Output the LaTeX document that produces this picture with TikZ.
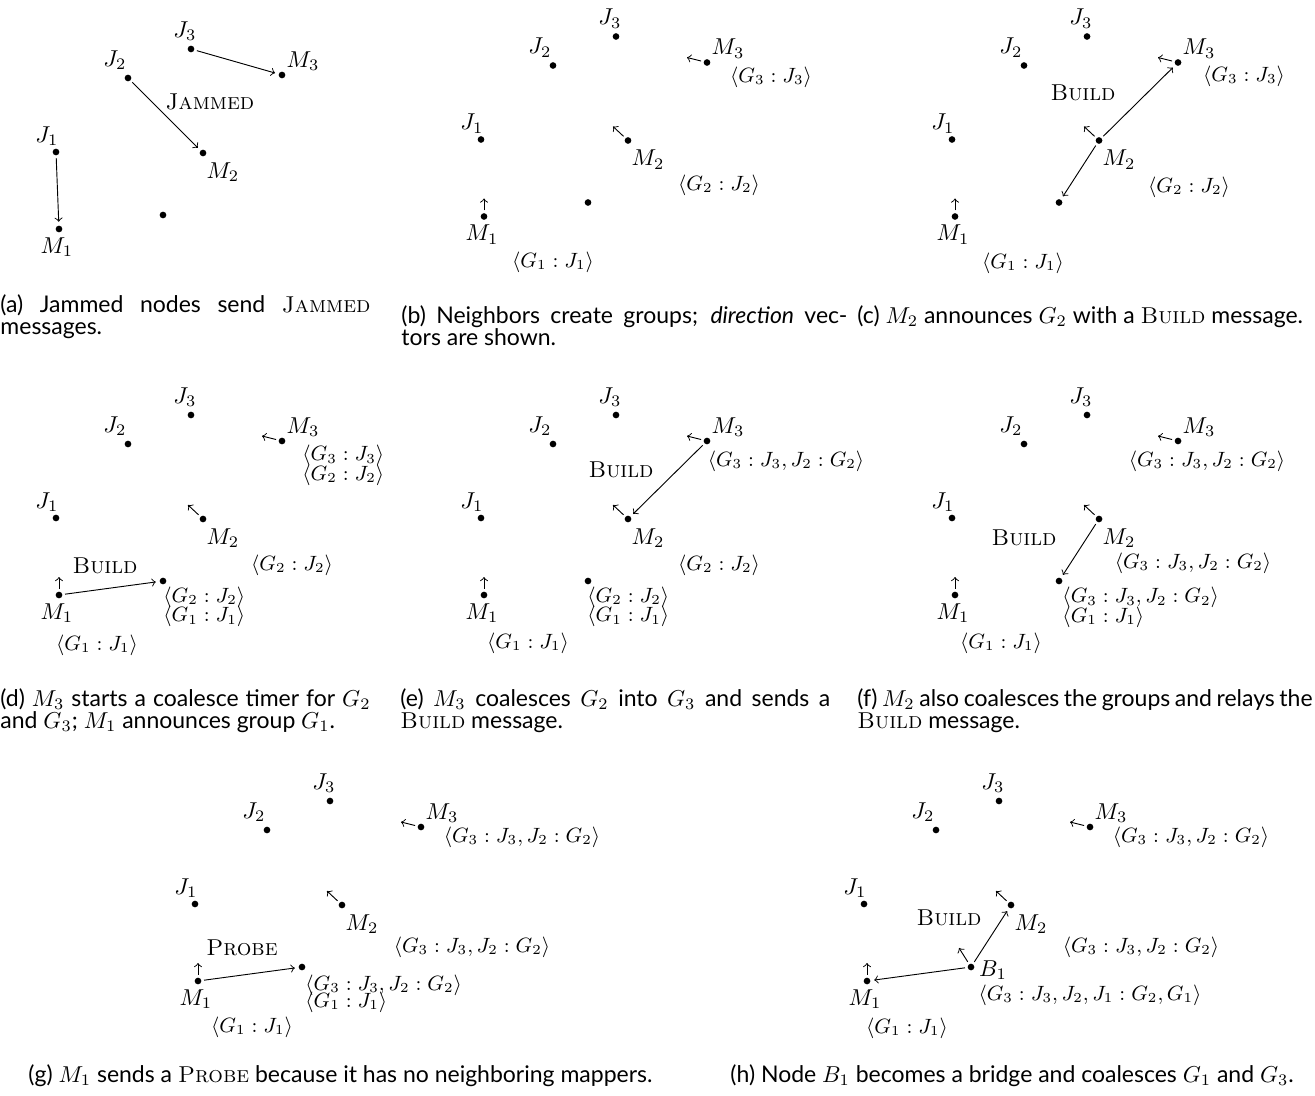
\documentclass[tikz,border=0pt]{standalone}
\usepackage{amsmath}
\usepackage{fontspec}
\newfontfamily\legfont{Lato}
\usepackage{tikz}
\newcommand{\msg}[1]{{\rmfamily\textsc{#1}}}
\newcommand{\ligne}[2]{\makebox[#1][s]{#2}}
\newcommand{\legstyle}{\legfont\fontsize{10}{9.5}\selectfont\lineskiplimit-10pt\relax}
\newcommand{\reseau}[1]{%
  \node[noeud] (#1J3) at (191,49) {};  \node (#1lJ3) at (185,31) {$J_3$};
  \node[noeud] (#1J2) at (128,78) {};  \node (#1lJ2) at (115,60) {$J_2$};
  \node[noeud] (#1M3) at (282,75) {};  \node (#1lM3) at (303,61) {$M_3$};
  \node[noeud] (#1J1) at (56,152) {};  \node (#1lJ1) at (47,136) {$J_1$};
  \node[noeud] (#1M2) at (203,153) {}; \node (#1lM2) at (223,172) {$M_2$};
  \node[noeud] (#1M1) at (59,229) {};  \node (#1lM1) at (57,247) {$M_1$};
  \node[noeud] (#1B1) at (163,215) {};}
\newcommand{\directions}[1]{\draw[vecteur] (#1M3) -- +(-20,-5);
  \draw[vecteur] (#1M2) -- +(-15,-14); \draw[vecteur] (#1M1) -- +(0,-18);}

\begin{document}
\begin{tikzpicture}[>=to, x=0.435pt, y=-0.435pt,
  noeud/.style={circle, fill, inner sep=0pt, minimum size=2.9pt},
  fleche/.style={->, shorten <=1pt, shorten >=1.5pt},
  vecteur/.style={->, shorten <=1pt},
  groupe/.style={font=\small, inner sep=0pt},
  pile/.style={groupe, align=left, anchor=west},
  legende/.style={font=\legstyle, inner sep=0pt, anchor=north west, align=left}]
  \useasboundingbox (0,0) rectangle (1315,1095);

  % (a) messages Jammed
  \begin{scope}
    \reseau{a}
    \draw[fleche] (aJ3) -- (aM3);
    \draw[fleche] (aJ2) -- (aM2);
    \draw[fleche] (aJ1) -- (aM1);
    \node (aMsg) at (210,102) {\msg{Jammed}};
  \end{scope}

  % (b) groupes et vecteurs direction
  \begin{scope}[shift={(425,-12.5)}]
    \reseau{b}
    \directions{b}
    \node[groupe] (bT3) at (346,89.5) {$\langle G_3 : J_3\rangle$};
    \node[groupe] (bT2) at (294,197.5) {$\langle G_2 : J_2\rangle$};
    \node[groupe] (bT1) at (128,274.5) {$\langle G_1 : J_1\rangle$};
  \end{scope}

  % (c) M2 annonce G2
  \begin{scope}[shift={(896,-12.5)}]
    \reseau{c}
    \directions{c}
    \draw[fleche] (cM2) -- (cM3);
    \draw[fleche] (cM2) -- (cB1);
    \node (cMsg) at (187,105.5) {\msg{Build}};
    \node[groupe] (cT3) at (348,88.5) {$\langle G_3 : J_3\rangle$};
    \node[groupe] (cT2) at (293,199.5) {$\langle G_2 : J_2\rangle$};
    \node[groupe] (cT1) at (127,275.5) {$\langle G_1 : J_1\rangle$};
  \end{scope}

  % (d) M1 annonce G1
  \begin{scope}[shift={(0,366)}]
    \reseau{d}
    \directions{d}
    \draw[fleche] (dM1) -- (dB1);
    \node (dMsg) at (105,200) {\msg{Build}};
    \node[pile] (dT3) at (302,99.3) {$\langle G_3 : J_3\rangle$\\[-2.5pt]$\langle G_2 : J_2\rangle$};
    \node[groupe] (dT2) at (292,199) {$\langle G_2 : J_2\rangle$};
    \node[pile] (dTB) at (163,241) {$\langle G_2 : J_2\rangle$\\[-2.5pt]$\langle G_1 : J_1\rangle$};
    \node[groupe] (dT1) at (97,279) {$\langle G_1 : J_1\rangle$};
  \end{scope}

  % (e) M3 fusionne G2 dans G3
  \begin{scope}[shift={(425,366)}]
    \reseau{e}
    \directions{e}
    \draw[fleche] (eM3) -- (eM2);
    \node (eMsg) at (196,104) {\msg{Build}};
    \node[groupe] (eT3) at (361,95) {$\langle G_3 : J_3, J_2 : G_2\rangle$};
    \node[groupe] (eT2) at (294,199) {$\langle G_2 : J_2\rangle$};
    \node[pile] (eTB) at (162,241) {$\langle G_2 : J_2\rangle$\\[-2.5pt]$\langle G_1 : J_1\rangle$};
    \node[groupe] (eT1) at (103,277) {$\langle G_1 : J_1\rangle$};
  \end{scope}

  % (f) M2 relaie
  \begin{scope}[shift={(896,366)}]
    \reseau{f}
    \directions{f}
    \draw[fleche] (fM2) -- (fB1);
    \node (fMsg) at (128,172) {\msg{Build}};
    \node[groupe] (fT3) at (311,95) {$\langle G_3 : J_3, J_2 : G_2\rangle$};
    \node[groupe] (fT2) at (297,197) {$\langle G_3 : J_3, J_2 : G_2\rangle$};
    \node[pile] (fTB) at (166,241.5) {$\langle G_3 : J_3, J_2 : G_2\rangle$\\[-2.5pt]$\langle G_1 : J_1\rangle$};
    \node[groupe] (fT1) at (105,277) {$\langle G_1 : J_1\rangle$};
  \end{scope}

  % (g) M1 envoie un Probe
  \begin{scope}[shift={(139,752)}]
    \reseau{g}
    \directions{g}
    \draw[fleche] (gM1) -- (gB1);
    \node (gMsg) at (103,196) {\msg{Probe}};
    \node[groupe] (gT3) at (383,85) {$\langle G_3 : J_3, J_2 : G_2\rangle$};
    \node[groupe] (gT2) at (333,195) {$\langle G_3 : J_3, J_2 : G_2\rangle$};
    \node[pile] (gTB) at (166,241.5) {$\langle G_3 : J_3, J_2 : G_2\rangle$\\[-3.6pt]$\langle G_1 : J_1\rangle$};
    \node[groupe] (gT1) at (113,275) {$\langle G_1 : J_1\rangle$};
  \end{scope}

  % (h) B1 devient pont
  \begin{scope}[shift={(808,752)}]
    \reseau{h}
    \directions{h}
    \draw[vecteur] (hB1) -- +(-12,-19);
    \draw[fleche] (hB1) -- (hM2);
    \draw[fleche] (hB1) -- (hM1);
    \node (hlB1) at (185,218) {$B_1$};
    \node (hMsg) at (141,166) {\msg{Build}};
    \node[groupe] (hT3) at (383,85) {$\langle G_3 : J_3, J_2 : G_2\rangle$};
    \node[groupe] (hT2) at (333,195) {$\langle G_3 : J_3, J_2 : G_2\rangle$};
    \node[groupe] (hTB) at (282,243) {$\langle G_3 : J_3, J_2, J_1 : G_2, G_1\rangle$};
    \node[groupe] (hT1) at (99,276) {$\langle G_1 : J_1\rangle$};
  \end{scope}

  % legendes
  \node[legende] (aCap) at (0,294) {\ligne{161pt}{(a) Jammed nodes send \msg{Jammed}}\\messages.};
  \node[legende] (bCap) at (401,305) {\ligne{194pt}{(b) Neighbors create groups; \emph{direction} vec-}\\tors are shown.};
  \node[legende] (cCap) at (857,305) {(c) $M_2$ announces $G_2$ with a \msg{Build} message.};
  \node[legende] (dCap) at (0,688) {\ligne{161pt}{(d) $M_3$ starts a coalesce timer for $G_2$}\\and $G_3$; $M_1$ announces group $G_1$.};
  \node[legende] (eCap) at (400,688) {\ligne{187pt}{(e) $M_3$ coalesces $G_2$ into $G_3$ and sends a}\\\msg{Build} message.};
  \node[legende] (fCap) at (857,688) {\ligne{198pt}{(f) $M_2$ also coalesces the groups and relays the}\\\msg{Build} message.};
  \node[legende] (gCap) at (28,1064) {(g) $M_1$ sends a \msg{Probe} because it has no neighboring mappers.};
  \node[legende] (hCap) at (730,1064) {(h) Node $B_1$ becomes a bridge and coalesces $G_1$ and $G_3$.};
\end{tikzpicture}
\end{document}
